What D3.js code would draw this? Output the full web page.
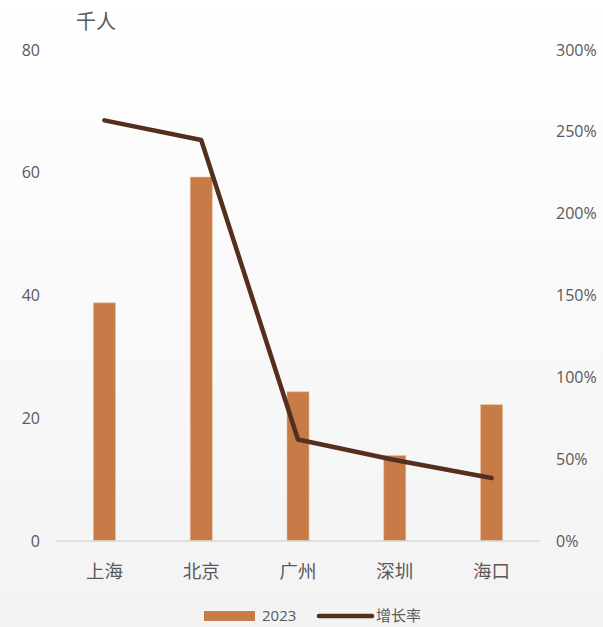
<!DOCTYPE html>
<html><head><meta charset="utf-8">
<script src="https://cdn.jsdelivr.net/npm/d3@7/dist/d3.min.js"></script>
<style>html,body{margin:0;padding:0;}svg{display:block;}</style>
</head><body>
<script>
const categories = ["上海","北京","广州","深圳","海口"];
const values2023 = [38.8, 59.3, 24.3, 13.9, 22.2];
const growthRate = [2.57, 2.45, 0.62, 0.495, 0.385];
const leftTicks = [0, 20, 40, 60, 80];
const rightTicks = [0, 0.5, 1, 1.5, 2, 2.5, 3];
const seriesNames = ["2023", "增长率"];

const W = 603, H = 627;
const m = {left: 56, right: 63, top: 50, bottom: 86};
const svg = d3.select("body").append("svg").attr("width", W).attr("height", H);
const defs = svg.append("defs");
const g0 = defs.append("linearGradient").attr("id","bg").attr("x1",0).attr("y1",0).attr("x2",0).attr("y2",1);
g0.append("stop").attr("offset","0%").attr("stop-color","#ffffff");
g0.append("stop").attr("offset","100%").attr("stop-color","#f3f3f3");
svg.append("rect").attr("width",W).attr("height",H).attr("fill","url(#bg)");

const x = d3.scaleBand().domain(categories).range([m.left, W - m.right]);
const yL = d3.scaleLinear().domain([0, 80]).range([H - m.bottom, m.top]);
const yR = d3.scaleLinear().domain([0, 3]).range([H - m.bottom, m.top]);
const numFont = "'Open Sans', 'Noto Sans', sans-serif";
const cjkFont = "'Noto Sans CJK SC', sans-serif";
const txt = "#595959";

// left axis
const axL = svg.append("g").attr("transform", `translate(${m.left},0)`)
  .call(d3.axisLeft(yL).tickValues(leftTicks).tickSize(0).tickPadding(16));
axL.select(".domain").remove();
axL.selectAll("text").attr("fill", txt).style("font-family", numFont).style("font-size", "16px");

// right axis
const axR = svg.append("g").attr("transform", `translate(${W - m.right},0)`)
  .call(d3.axisRight(yR).tickValues(rightTicks).tickFormat(d => Math.round(d*100) + "%").tickSize(0).tickPadding(16));
axR.select(".domain").remove();
axR.selectAll("text").attr("fill", txt).style("font-family", numFont).style("font-size", "16px");

// bars
const bw = 22;
svg.append("g").selectAll("rect").data(categories).join("rect")
  .attr("x", d => x(d) + x.bandwidth()/2 - bw/2)
  .attr("y", (d,i) => yL(values2023[i]))
  .attr("width", bw)
  .attr("height", (d,i) => yL(0) - yL(values2023[i]))
  .attr("fill", "#c77c48")
  .attr("stroke", "#e8b896").attr("stroke-width", 0.6);

// baseline
svg.append("line").attr("x1", m.left).attr("x2", W - m.right)
  .attr("y1", yL(0)).attr("y2", yL(0)).attr("stroke", "#d9d9d9").attr("stroke-width", 1.3);

// x labels
const axB = svg.append("g").attr("transform", `translate(0,${yL(0)})`)
  .call(d3.axisBottom(x).tickSize(0).tickPadding(24));
axB.select(".domain").remove();
axB.selectAll("text").attr("fill", txt).style("font-family", cjkFont).style("font-size", "18.5px");

// line
const line = d3.line().x((d,i) => x(categories[i]) + x.bandwidth()/2).y(d => yR(d));
svg.append("path").datum(growthRate).attr("d", line)
  .attr("fill","none").attr("stroke","#552e1e").attr("stroke-width",4.5)
  .attr("stroke-linecap","round").attr("stroke-linejoin","round");

// unit label
svg.append("text").attr("x", 76).attr("y", 29).text("千人")
  .attr("fill", txt).style("font-family", cjkFont).style("font-size", "20px");

// legend
const ly = 616;
svg.append("rect").attr("x", 204).attr("y", ly - 5).attr("width", 51).attr("height", 10).attr("fill", "#c77c48");
svg.append("text").attr("x", 262).attr("y", ly + 5).text(seriesNames[0])
  .attr("fill", txt).style("font-family", numFont).style("font-size", "15px");
svg.append("line").attr("x1", 319).attr("x2", 372).attr("y1", ly).attr("y2", ly)
  .attr("stroke", "#552e1e").attr("stroke-width", 4.5).attr("stroke-linecap","round");
svg.append("text").attr("x", 376).attr("y", ly + 5).text(seriesNames[1])
  .attr("fill", txt).style("font-family", cjkFont).style("font-size", "15px");
</script>
</body></html>
